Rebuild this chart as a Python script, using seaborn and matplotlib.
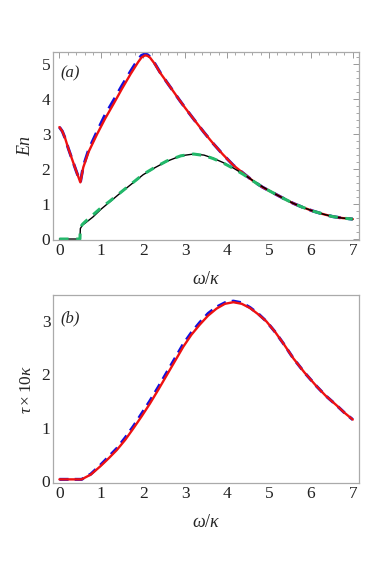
import numpy as np
import pandas as pd
import matplotlib
matplotlib.use('Agg')
import matplotlib.pyplot as plt
import seaborn as sns
from matplotlib.ticker import MultipleLocator

# ---- panel (a): En vs omega/kappa ----
xa_red = [0.0, 0.07, 0.14, 0.21, 0.30, 0.40, 0.50, 0.57, 0.70, 0.90, 1.09, 1.30, 1.49, 1.70,
          1.88, 1.96, 2.04, 2.10, 2.16, 2.28, 2.40, 2.56, 2.72, 2.86, 3.00, 3.19, 3.45, 3.67,
          3.90, 4.15, 4.40, 4.62, 4.85, 5.10, 5.35, 5.58, 5.80, 6.05, 6.30, 6.53, 6.75, 7.00]
ya_red = [3.20, 3.08, 2.87, 2.60, 2.29, 1.95, 1.62, 2.05, 2.50, 3.00, 3.44, 3.88, 4.29, 4.72,
          5.06, 5.19, 5.25, 5.24, 5.19, 5.00, 4.76, 4.49, 4.22, 3.98, 3.75, 3.45, 3.05, 2.73,
          2.42, 2.11, 1.87, 1.66, 1.48, 1.32, 1.16, 1.02, 0.91, 0.80, 0.71, 0.64, 0.60, 0.57]
ya_blue = [3.20, 3.08, 2.87, 2.60, 2.29, 1.95, 1.62, 2.08, 2.56, 3.08, 3.55, 3.98, 4.38, 4.80,
           5.14, 5.25, 5.29, 5.27, 5.21, 5.01, 4.77, 4.49, 4.22, 3.98, 3.75, 3.45, 3.05, 2.73,
           2.42, 2.11, 1.87, 1.66, 1.48, 1.32, 1.16, 1.02, 0.91, 0.80, 0.71, 0.64, 0.60, 0.57]

xa_grn = [0.0, 0.25, 0.49, 0.50, 0.55, 0.61, 0.80, 1.00, 1.20, 1.49, 1.75, 2.00, 2.28, 2.56,
          2.90, 3.20, 3.45, 3.67, 3.90, 4.15, 4.40, 4.62, 4.85, 5.10, 5.35, 5.58, 5.80, 6.05,
          6.30, 6.53, 6.75, 7.00]
ya_grn = [0.0, 0.0, 0.0, 0.33, 0.42, 0.49, 0.69, 0.90, 1.08, 1.36, 1.61, 1.85, 2.05, 2.23,
          2.38, 2.43, 2.39, 2.30, 2.18, 2.02, 1.84, 1.66, 1.48, 1.32, 1.16, 1.02, 0.91, 0.80,
          0.71, 0.64, 0.60, 0.57]
ya_blk = [0.0, 0.0, 0.0, 0.30, 0.40, 0.45, 0.63, 0.86, 1.06, 1.35, 1.60, 1.84, 2.04, 2.22,
          2.38, 2.43, 2.40, 2.31, 2.19, 2.03, 1.85, 1.67, 1.49, 1.32, 1.16, 1.02, 0.91, 0.80,
          0.71, 0.64, 0.60, 0.57]

# ---- panel (b): tau x 10 kappa ----
xb = [0.0, 0.25, 0.53, 0.75, 0.97, 1.17, 1.37, 1.57, 1.77, 1.97, 2.16, 2.36, 2.56, 2.76, 2.96,
      3.15, 3.35, 3.55, 3.75, 3.95, 4.15, 4.35, 4.55, 4.75, 4.94, 5.15, 5.35, 5.58, 5.85,
      6.13, 6.35, 6.61, 6.80, 7.00]
yb_red = [0.03, 0.03, 0.03, 0.12, 0.27, 0.42, 0.58, 0.77, 0.99, 1.22, 1.45, 1.71, 1.98, 2.25,
          2.52, 2.74, 2.93, 3.10, 3.23, 3.32, 3.35, 3.32, 3.24, 3.12, 2.99, 2.79, 2.57, 2.30,
          2.03, 1.78, 1.60, 1.42, 1.28, 1.15]
yb_blue = [0.03, 0.03, 0.03, 0.13, 0.29, 0.45, 0.61, 0.81, 1.03, 1.27, 1.50, 1.76, 2.03, 2.30,
           2.57, 2.78, 2.97, 3.14, 3.26, 3.34, 3.37, 3.34, 3.25, 3.13, 2.99, 2.79, 2.57, 2.30,
           2.03, 1.78, 1.60, 1.42, 1.28, 1.15]

sns.set_style('white')
plt.rcParams['font.family'] = ['Liberation Serif', 'DejaVu Serif']
plt.rcParams['mathtext.fontset'] = 'custom'
plt.rcParams['mathtext.rm'] = 'Liberation Serif'
plt.rcParams['mathtext.it'] = 'Liberation Serif:italic'

fig = plt.figure(figsize=(3.74, 5.87), dpi=100)
ax1 = fig.add_axes([0.142, 0.591, 0.818, 0.320])
ax2 = fig.add_axes([0.142, 0.177, 0.818, 0.320])

red = '#ee1111'
blue = '#1010e0'

sns.lineplot(x=xa_red, y=ya_blue, ax=ax1, color=blue, lw=2.2, linestyle=(0, (4, 2.5)))
sns.lineplot(x=xa_red, y=ya_red, ax=ax1, color=red, lw=1.7)
sns.lineplot(x=xa_grn, y=ya_blk, ax=ax1, color='black', lw=1.0)
sns.lineplot(x=xa_grn, y=ya_grn, ax=ax1, color='#22b86a', lw=2.2, linestyle=(0, (3, 2.5)))

sns.lineplot(x=xb, y=yb_blue, ax=ax2, color=blue, lw=2.2, linestyle=(0, (3, 2)))
sns.lineplot(x=xb, y=yb_red, ax=ax2, color=red, lw=1.7)

ax1.set_xlim(-0.15, 7.15)
ax1.set_ylim(-0.03, 5.34)
ax2.set_xlim(-0.15, 7.15)
ax2.set_ylim(-0.04, 3.48)

for ax in (ax1, ax2):
    ax.xaxis.set_major_locator(MultipleLocator(1))
    ax.xaxis.set_minor_locator(MultipleLocator(0.2))
    ax.yaxis.set_major_locator(MultipleLocator(1))
    ax.tick_params(which='both', direction='in', color='#999999',
                   labelsize=12.5, labelcolor='#222222', pad=2)
    ax.tick_params(which='major', length=4, width=0.7)
    ax.tick_params(which='minor', length=2, width=0.6)
    for s in ax.spines.values():
        s.set_color('#aaaaaa')
        s.set_linewidth(0.9)
    ax.set_xlabel(r'$\omega/\kappa$', fontsize=13, labelpad=9)

# top panel has ticks on all four sides, bottom panel only left/bottom
ax1.tick_params(which='both', top=True, right=True)
ax1.yaxis.set_minor_locator(MultipleLocator(0.2))
ax2.tick_params(axis='y', which='minor', left=False)

ax1.set_ylabel('En', fontsize=13, style='italic', labelpad=5)
ax2.set_ylabel(r'$\tau\times10\kappa$', fontsize=12.5, labelpad=5)

ax1.text(0.025, 0.89, '(a)', transform=ax1.transAxes, fontsize=12, style='italic', va='center')
ax2.text(0.025, 0.878, '(b)', transform=ax2.transAxes, fontsize=12, style='italic', va='center')

fig.savefig('out.png', dpi=100)
